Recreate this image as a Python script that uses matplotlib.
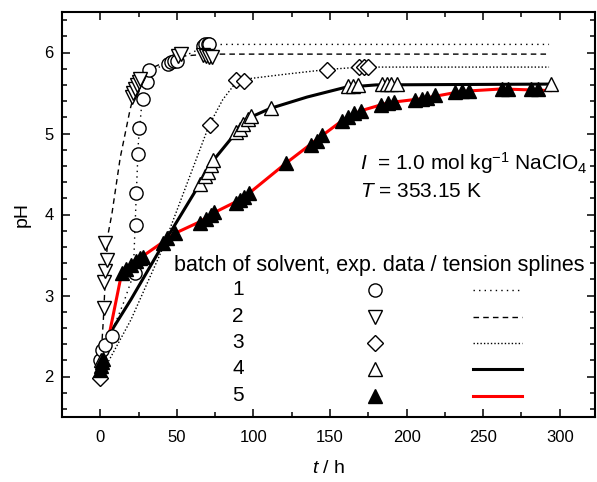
import matplotlib
matplotlib.use("Agg")
import matplotlib.pyplot as plt
from matplotlib.lines import Line2D
from matplotlib.ticker import MultipleLocator

plt.rcParams['font.family'] = ['Liberation Sans', 'DejaVu Sans']
plt.rcParams['mathtext.fontset'] = 'custom'
plt.rcParams['mathtext.rm'] = 'Liberation Sans'
plt.rcParams['mathtext.it'] = 'Liberation Sans:italic'

# measured pH vs time, batches 1-5
t1 = [-0.5, 1.1, 3.2, 7.6, 22.5, 23.4, 23.4, 24.9, 25.5, 28, 30.7, 32, 44, 46, 48, 50, 67, 68.5, 70, 71]
ph1 = [2.2, 2.33, 2.39, 2.5, 3.28, 3.87, 4.26, 4.75, 5.07, 5.42, 5.63, 5.78, 5.86, 5.88, 5.9, 5.9, 6.08, 6.1, 6.11, 6.1]

t2 = [2.2, 2.2, 3.2, 4.3, 3.2, 20.6, 21.6, 22.7, 23.8, 25, 26, 51, 53, 67, 69, 71, 73]
ph2 = [2.84, 3.17, 3.3, 3.44, 3.65, 5.45, 5.5, 5.55, 5.6, 5.64, 5.67, 5.96, 5.98, 5.97, 5.96, 5.95, 5.94]

t3 = [0, 71.4, 88.7, 94, 148, 169, 172, 175]
ph3 = [1.98, 5.1, 5.66, 5.65, 5.79, 5.82, 5.82, 5.82]

t4 = [0.5, 64.9, 68.2, 70.3, 72.5, 73.6, 88.7, 90.9, 93, 96.3, 98.5, 111.5, 162, 165, 168, 184, 187, 190, 194, 294]
ph4 = [2.2, 4.38, 4.47, 4.53, 4.61, 4.67, 5.02, 5.06, 5.12, 5.18, 5.22, 5.31, 5.59, 5.59, 5.6, 5.61, 5.61, 5.61, 5.61, 5.61]

t5 = [0, 0.5, 1, 1.5, 14, 17, 20, 23, 26, 28, 41, 43.3, 48.7, 65, 69.3, 72, 74.5, 88.7, 91, 94, 97.4,
      121, 137.5, 141.7, 145, 158, 162, 165.6, 170, 183, 188, 191.6, 205.6, 210, 213, 218.6,
      231.6, 236, 241, 262, 266, 281, 286]
ph5 = [2.08, 2.13, 2.18, 2.22, 3.28, 3.33, 3.38, 3.42, 3.46, 3.48, 3.65, 3.71, 3.77, 3.9, 3.95, 3.99, 4.03,
       4.14, 4.18, 4.22, 4.26, 4.63, 4.86, 4.91, 4.98, 5.16, 5.2, 5.25, 5.28, 5.35, 5.38, 5.39, 5.41,
       5.43, 5.44, 5.47, 5.51, 5.53, 5.53, 5.55, 5.55, 5.55, 5.55]

# tension spline curves
st1 = [0, 6, 15, 21.5, 23.4, 24.9, 27, 30, 33, 45, 60, 70, 80, 293]
sp1 = [2.2, 2.48, 2.9, 3.25, 4.2, 4.9, 5.35, 5.6, 5.77, 5.88, 6.0, 6.09, 6.1, 6.1]

st2 = [0, 2, 3.5, 5, 7.6, 13, 19.5, 22, 25, 35, 50, 70, 293]
sp2 = [2.1, 2.7, 3.3, 3.75, 4.01, 4.7, 5.3, 5.48, 5.62, 5.82, 5.95, 5.98, 5.98]

st3 = [0, 20, 40, 60, 71, 80, 89, 94, 120, 148, 170, 293]
sp3 = [2.0, 2.7, 3.55, 4.55, 5.1, 5.42, 5.64, 5.67, 5.73, 5.79, 5.82, 5.82]

st4 = [0, 6.5, 20, 40, 65, 73, 89, 98, 111, 135, 160, 180, 294]
sp4 = [2.15, 2.54, 2.95, 3.6, 4.38, 4.65, 5.02, 5.2, 5.31, 5.45, 5.57, 5.6, 5.61]

st5 = [0, 6.5, 14, 20, 28, 41, 49, 65, 74, 91, 97, 121, 141, 158, 170, 188, 210, 236, 262, 294]
sp5 = [2.15, 2.58, 3.28, 3.39, 3.49, 3.66, 3.77, 3.91, 4.02, 4.18, 4.26, 4.63, 4.92, 5.16, 5.28, 5.38,
       5.43, 5.52, 5.55, 5.53]

fig = plt.figure(figsize=(5.97, 4.82), dpi=100)
ax = fig.add_axes([62 / 597, 65 / 482, 533 / 597, 405 / 482])

ax.plot(st1, sp1, color='black', lw=1.0, ls=(0, (1, 3)), zorder=2)
ax.plot(st2, sp2, color='black', lw=1.0, ls=(0, (4, 3)), zorder=2)
ax.plot(st3, sp3, color='black', lw=1.0, ls=(0, (1, 1.5)), zorder=2)
ax.plot(st4, sp4, color='black', lw=2.2, zorder=2)
ax.plot(st5, sp5, color='#ff0000', lw=2.2, zorder=2)

mk = dict(ls='none', ms=9.5, mec='black', mew=1.0, zorder=3)
ax.plot(t1, ph1, marker='o', mfc='white', **mk)
ax.plot(t2, ph2, marker='v', mfc='white', **mk)
ax.plot(t3, ph3, marker='D', mfc='white', **dict(mk, ms=8))
ax.plot(t4, ph4, marker='^', mfc='white', **mk)
ax.plot(t5, ph5, marker='^', mfc='black', **mk)

ax.set_xlim(-25, 323)
ax.set_ylim(1.5, 6.5)
ax.xaxis.set_major_locator(MultipleLocator(50))
ax.xaxis.set_minor_locator(MultipleLocator(25))
ax.yaxis.set_major_locator(MultipleLocator(1))
ax.yaxis.set_minor_locator(MultipleLocator(0.2))
ax.tick_params(which='both', direction='in', top=True, right=True, width=1.1, labelsize=12)
ax.tick_params(which='major', length=6)
ax.tick_params(which='minor', length=3.5)
ax.tick_params(axis='x', pad=9)
ax.tick_params(axis='y', pad=6)
for s in ax.spines.values():
    s.set_linewidth(1.5)

ax.set_xlabel('$t$ / h', fontsize=14, labelpad=11)
ax.set_ylabel('pH', fontsize=14, labelpad=10)

ax.text(0.559, 0.627, '$I$  = 1.0 mol kg$^{-1}$ NaClO$_4$', transform=ax.transAxes,
        fontsize=15, va='center', ha='left')
ax.text(0.559, 0.556, '$T$ = 353.15 K', transform=ax.transAxes,
        fontsize=15, va='center', ha='left')

# hand-made legend
ax.text(0.595, 0.375, 'batch of solvent, exp. data / tension splines', transform=ax.transAxes,
        fontsize=15.5, va='center', ha='center')
rows = [0.314, 0.247, 0.183, 0.119, 0.052]
labels = ['1', '2', '3', '4', '5']
markers = [('o', 'white', 9.5), ('v', 'white', 9.5), ('D', 'white', 8), ('^', 'white', 9.5), ('^', 'black', 9.5)]
styles = [(1.0, (0, (1, 3)), 'black'), (1.0, (0, (4, 3)), 'black'), (1.0, (0, (1, 1.5)), 'black'),
          (2.2, '-', 'black'), (2.2, '-', '#ff0000')]
for y, lab, (m, fc, ms), (lw, ls, c) in zip(rows, labels, markers, styles):
    ax.text(0.330, y, lab, transform=ax.transAxes, fontsize=15, va='center', ha='center')
    ax.add_line(Line2D([0.587], [y], transform=ax.transAxes, marker=m, mfc=fc, mec='black',
                       ms=ms, mew=1.0, ls='none'))
    ax.add_line(Line2D([0.771, 0.863], [y, y], transform=ax.transAxes, lw=lw, ls=ls, color=c))

fig.savefig('out.png', dpi=100)
